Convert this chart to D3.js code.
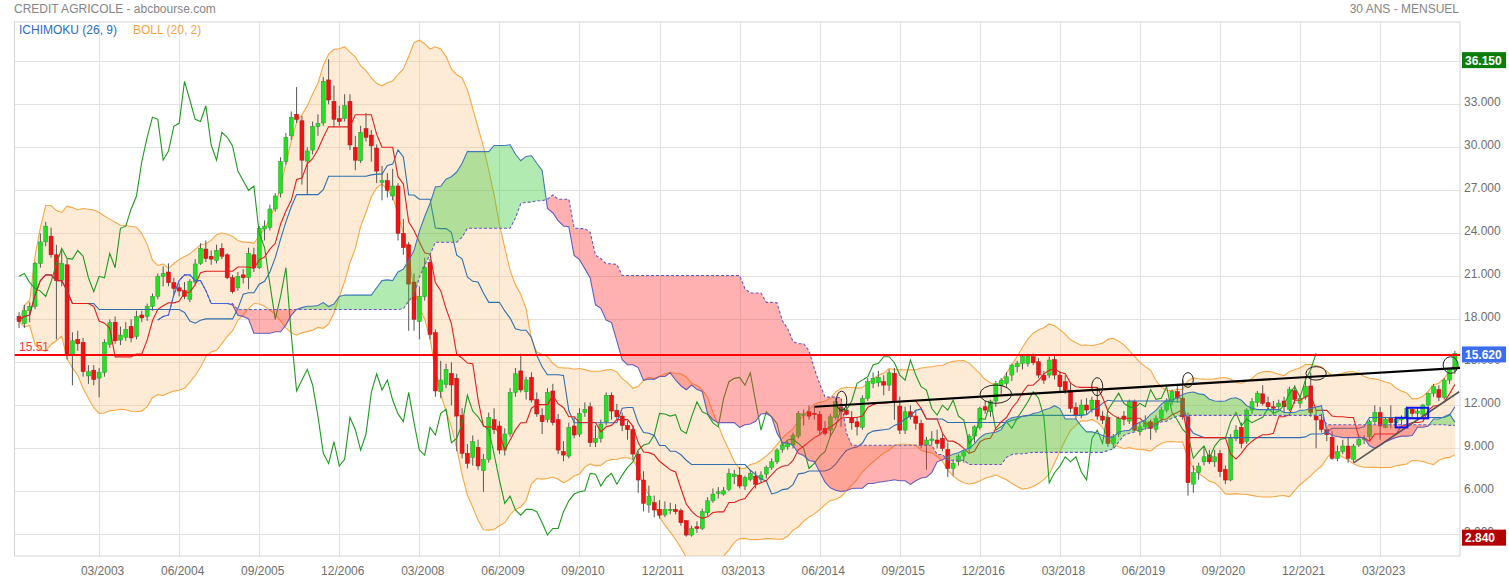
<!DOCTYPE html>
<html><head><meta charset="utf-8">
<script src="https://cdn.jsdelivr.net/npm/d3@7"></script>
<style>body{margin:0;background:#fff;} svg{display:block;font-family:Arial,"Liberation Sans",sans-serif;}</style>
</head><body><svg id="c" width="1509" height="580"></svg>
<script>
// ---- DATA (monthly candles, Dec 2001 .. May 2024) ----
const opens = [18.2,17.7,18.6,18.9,21.9,23.4,23.8,22.5,20.7,21.8,15.5,16.6,16.4,14.05,14.45,13.9,14.3,16.25,17.8,16.55,16.75,17.5,16.8,18.3,18.2,
18.9,19.6,21.0,21.3,20.56,20.2,20.0,19.4,20.6,21.9,22.9,22.4,22.1,22.95,22.5,20.9,20.2,21.1,20.9,22.5,21.6,24.3,24.4,25.7,
26.8,29.0,30.8,32.3,31.85,29.04,29.8,31.44,31.7,34.7,33.2,32.0,32.0,33.2,30.0,29.06,31.3,30.85,29.95,27.55,27.67,26.6,27.3,24.0,
23.2,20.6,17.84,19.58,21.98,17.07,12.95,13.46,14.23,13.88,11.3,8.65,8.37,9.07,7.44,8.23,11.0,10.56,8.88,10.0,12.9,14.4,12.95,13.95,
12.4,11.3,11.0,13.0,11.0,8.77,8.46,10.56,9.99,11.49,11.9,9.4,9.69,10.85,12.7,11.65,11.25,10.6,10.3,8.6,6.79,5.05,5.21,4.75,
4.35,4.65,4.74,4.65,3.95,2.95,3.53,3.41,4.5,5.34,5.85,5.81,6.13,7.02,7.13,6.37,6.83,7.06,6.83,7.2,7.67,8.06,8.92,9.1,
9.23,9.85,11.3,11.55,11.45,11.37,10.37,10.27,11.16,11.85,11.67,11.16,10.85,10.46,12.48,13.53,13.57,13.65,13.41,14.23,11.95,10.27,11.55,11.25,
10.74,9.23,9.55,9.58,9.7,8.92,7.6,8.06,8.46,8.99,9.85,10.46,11.9,11.55,12.3,13.41,13.53,14.11,14.69,14.93,14.93,15.39,15.04,14.11,
14.11,15.2,14.11,13.65,13.06,11.85,11.32,12.02,11.7,12.36,11.25,11.16,9.34,10.0,11.25,10.9,12.25,10.16,10.5,10.85,10.32,11.09,11.67,12.25,
12.95,12.5,11.2,6.5,7.3,8.06,8.53,8.06,8.64,7.53,6.79,9.69,10.46,9.46,11.67,12.2,12.8,12.18,11.9,11.9,12.3,11.72,13.02,12.14,
12.56,13.35,11.25,10.98,10.3,9.77,8.3,8.77,9.16,8.23,9.23,9.62,9.81,10.86,11.5,10.46,11.16,10.79,10.98,11.2,11.72,11.44,11.32,12.02,
12.84,13.1,12.56,13.76,14.46];
const highs = [18.5,19.0,19.2,22.0,24.0,24.8,24.4,23.2,22.9,22.2,17.1,17.2,16.7,14.8,14.8,14.6,16.6,18.0,18.2,17.5,17.8,18.0,18.6,18.6,19.1,
19.8,21.2,21.7,21.9,20.9,20.5,20.6,20.8,22.2,23.3,23.5,22.8,23.2,23.3,22.6,21.1,21.3,21.5,23.0,23.0,24.5,24.9,26.0,26.8,
29.3,31.0,32.5,34.2,32.2,30.0,31.8,32.3,34.9,36.15,34.3,32.9,33.7,33.7,30.8,31.5,32.4,31.2,30.2,28.7,28.2,28.5,27.5,25.0,
23.4,21.2,20.3,22.3,22.2,17.3,15.1,14.9,15.0,14.2,11.8,9.3,9.9,9.6,8.6,11.5,11.8,10.9,10.4,13.2,14.6,15.6,14.0,14.3,
12.9,11.8,13.2,13.5,11.4,9.5,10.8,11.2,11.8,12.2,12.2,10.6,11.0,12.9,12.9,12.1,11.5,10.9,10.6,8.8,7.4,6.4,5.7,5.4,
5.3,5.2,5.1,4.8,4.0,3.6,3.9,4.8,5.6,6.2,6.3,6.3,7.6,7.5,7.7,7.1,7.5,7.4,7.4,7.8,8.3,9.0,9.4,9.5,
10.1,11.6,11.7,12.0,11.9,11.6,10.9,11.4,12.5,12.2,12.2,11.6,11.2,12.7,13.9,14.3,14.4,14.1,14.5,14.6,12.6,11.9,12.0,11.6,
11.0,9.8,10.2,10.3,10.0,9.4,8.2,8.6,8.9,10.0,10.6,11.9,12.3,12.4,13.7,13.9,14.3,14.9,15.1,15.5,15.6,15.6,15.3,14.4,
15.4,15.5,14.4,14.1,13.6,12.2,12.4,12.5,12.6,13.2,11.6,11.3,10.0,11.2,11.6,12.4,12.4,10.8,11.3,11.0,11.3,11.9,12.5,13.1,
13.4,13.8,11.5,7.8,8.0,9.0,8.9,8.9,8.9,7.8,10.0,10.6,10.8,11.8,12.5,13.0,13.4,12.6,12.3,12.4,12.6,13.3,13.4,12.7,
13.9,14.3,11.6,11.4,10.5,10.2,9.2,9.6,9.8,9.3,9.8,9.9,11.0,12.0,11.9,11.2,12.0,11.2,11.3,11.9,11.9,11.8,12.1,12.9,
13.5,13.4,13.9,14.6,15.8];
const lows = [17.4,17.4,17.8,18.7,21.6,23.1,22.3,16.6,20.3,15.2,13.4,15.8,14.0,13.5,13.4,12.56,14.0,16.0,16.3,16.2,16.5,16.4,16.6,17.8,17.9,
18.6,19.4,20.3,20.3,19.7,19.6,19.4,19.2,20.4,21.8,22.0,21.8,21.9,22.2,20.8,19.8,20.0,20.5,20.1,21.3,21.5,23.5,24.2,25.5,
26.5,28.8,30.5,31.7,27.4,26.7,29.5,30.8,31.5,33.0,31.4,31.5,31.8,29.8,28.4,28.9,30.4,29.0,27.5,26.3,26.5,26.3,23.5,22.5,
17.2,17.2,16.6,19.3,16.6,12.6,12.5,13.2,12.0,8.8,8.3,7.6,7.8,7.5,5.97,8.0,10.0,8.6,8.5,9.8,12.6,12.9,12.4,12.2,
11.2,10.0,10.8,10.6,8.6,8.1,8.3,9.7,9.8,11.2,9.1,9.1,9.4,10.6,11.0,11.0,10.2,9.6,8.2,5.9,4.6,4.5,4.2,4.1,
4.2,4.4,4.4,3.6,2.84,2.84,3.1,3.3,4.3,5.2,5.5,5.7,6.0,6.5,6.2,6.1,6.7,6.2,6.6,6.9,7.5,7.9,8.7,8.9,
9.0,9.7,10.6,11.0,11.0,10.0,9.9,9.8,11.0,10.5,11.3,10.3,9.9,10.3,12.3,13.2,13.3,12.7,13.0,11.0,10.0,10.0,11.0,10.3,
9.0,7.5,9.2,9.0,8.8,7.0,7.1,7.8,8.0,8.7,9.4,10.3,11.4,11.2,11.9,12.8,13.3,13.7,14.3,14.5,14.7,14.8,13.9,13.5,
13.9,13.8,13.0,12.8,11.5,11.0,11.1,11.4,11.5,11.0,10.7,9.1,9.0,9.8,10.6,10.7,10.2,9.9,10.3,9.6,10.1,10.9,11.5,12.0,
12.2,11.0,5.7,5.9,6.8,7.8,7.9,7.7,7.0,6.5,6.7,9.5,9.0,9.3,11.4,11.9,12.0,11.6,11.3,11.7,11.5,11.6,12.1,11.8,
12.4,11.2,9.0,10.1,9.5,8.2,8.1,8.6,8.0,8.0,9.1,9.3,9.6,10.7,9.6,10.4,10.4,10.5,10.6,11.0,11.2,11.1,11.2,11.9,
12.6,12.3,12.4,13.5,14.2];
const closes = [17.85,18.6,18.9,21.9,23.4,24.5,22.5,20.7,21.9,15.46,16.5,16.3,14.35,14.35,13.8,14.3,16.4,17.76,16.5,16.9,17.3,16.7,18.2,18.1,18.9,
19.6,21.0,21.2,20.56,20.16,19.97,19.6,20.63,21.86,22.95,22.25,22.2,22.8,22.4,20.9,19.93,21.0,20.9,22.6,21.6,24.35,24.5,25.7,26.6,
29.0,30.7,32.1,31.95,29.1,29.74,31.46,31.67,34.6,33.3,31.95,31.8,32.9,30.16,29.1,31.04,30.7,30.1,28.34,27.67,27.0,27.3,24.0,23.0,
20.46,18.0,19.6,21.6,16.95,13.0,13.77,14.51,13.42,11.25,8.65,7.95,9.46,7.77,8.23,11.16,10.3,8.88,10.0,12.9,14.2,13.07,13.77,12.37,
11.4,10.86,12.9,10.8,8.88,8.53,10.46,9.93,11.44,11.72,9.4,9.7,10.69,12.7,11.6,11.2,10.6,10.3,8.6,6.79,5.16,5.67,4.7,4.34,
4.74,4.75,4.58,3.81,2.95,3.41,3.41,4.58,5.34,5.81,5.97,6.04,7.25,7.2,6.37,6.95,7.25,6.5,7.13,7.67,8.06,8.88,9.23,9.34,
9.92,11.44,11.4,11.25,11.35,10.27,10.04,11.2,12.25,11.55,11.37,10.78,10.5,12.48,13.65,13.88,13.95,13.41,14.27,12.25,10.27,11.55,11.2,10.74,
9.23,9.58,9.65,9.34,9.0,7.6,7.95,8.46,8.76,9.85,10.5,11.8,11.67,12.3,13.53,13.76,13.99,14.81,14.93,15.39,15.39,14.97,14.11,13.76,
15.16,14.11,13.3,13.06,11.78,11.32,12.02,11.67,12.36,11.25,10.97,9.34,9.81,11.09,11.02,12.25,10.27,10.5,10.85,10.4,11.09,11.67,12.25,12.95,
12.5,11.2,6.6,7.3,7.76,8.41,8.06,8.41,7.37,6.79,9.69,10.27,9.34,11.67,12.25,12.85,12.14,11.9,11.8,12.14,11.9,13.1,12.42,12.49,
13.3,11.5,10.98,10.32,9.95,8.3,8.77,9.16,8.3,9.16,9.62,9.7,10.86,11.5,10.56,11.04,10.79,11.0,11.16,11.8,11.44,11.6,12.02,12.84,
13.3,12.56,13.76,14.5,15.62];

const yTickValues = [3,6,9,12,15,18,21,24,27,30,33,36];
const xTickIndex = [15,30,45,60,75,90,105,120,135,150,165,180,195,210,225,240,255];
const xTickLabels = ["03/2003","06/2004","09/2005","12/2006","03/2008","06/2009","09/2010","12/2011","03/2013","06/2014","09/2015","12/2016","03/2018","06/2019","09/2020","12/2021","03/2023"];
const refLevel = 15.51;
const maxHigh = 36.15, minLow = 2.84, lastClose = 15.62;
// annotations in data units [index, price]
const trendBlack = [[149.0, 11.90],[269.96, 14.62]];
const trendGray = [[250.1, 8.0],[269.8, 12.95]];
const ellipses = [ // [centerIdx, centerPrice, radiusIdx, radiusPrice]
  [154.1,12.32,0.98,0.67],[183.0,12.78,2.96,0.64],[202.0,13.30,1.03,0.63],
  [219.0,13.77,0.99,0.51],[243.0,14.23,1.9,0.47],[268.2,14.81,1.4,0.58]];
const blueRects = [[257.9,260.1,10.46,11.13],[260.0,264.0,11.09,11.83]];

// ---- INDICATORS ----
const n = closes.length;
function midWin(i,w){const s=Math.max(0,i-w+1);return (d3.max(highs.slice(s,i+1))+d3.min(lows.slice(s,i+1)))/2;}
const tenkan = d3.range(n).map(i=>({i,v:midWin(i,9)}));
const kijun = d3.range(n).map(i=>({i,v:midWin(i,26)}));
const cloud = d3.range(26,n).map(i=>({i,a:(tenkan[i-26].v+kijun[i-26].v)/2,b:midWin(i-26,52)}));
const chikou = d3.range(0,n-26).map(i=>({i,v:closes[i+26]}));
const boll = d3.range(n).map(i=>{const s=Math.max(0,i-19);const arr=closes.slice(s,i+1);const m=d3.mean(arr);
  const sd=Math.sqrt(d3.mean(arr.map(v=>(v-m)*(v-m))));return {i,up:m+2*sd,lo:m-2*sd};});

// ---- SCALES ----
const P={l:14.5,r:1460,t:22,b:556};
const x=d3.scaleLinear().domain([-0.85,269.96]).range([P.l,P.r]);
const y=d3.scaleLinear().domain([1.49,38.74]).range([P.b,P.t]);
const svg=d3.select('#c');
const fmt=d3.format('.3f');

svg.append('defs').append('clipPath').attr('id','plotclip').append('rect')
  .attr('x',P.l).attr('y',P.t).attr('width',P.r-P.l).attr('height',P.b-P.t);

// titles
svg.append('text').attr('x',14).attr('y',12.5).attr('font-size',12).attr('fill','#858585').text('CREDIT AGRICOLE - abcbourse.com');
svg.append('text').attr('x',1459).attr('y',12.5).attr('text-anchor','end').attr('font-size',12).attr('fill','#858585').text('30 ANS - MENSUEL');

// grid
const grid=svg.append('g');
grid.selectAll('line.h').data(yTickValues).join('line').attr('x1',P.l).attr('x2',P.r)
  .attr('y1',d=>Math.round(y(d))+0.5).attr('y2',d=>Math.round(y(d))+0.5).attr('stroke','#e2e2e2');
grid.selectAll('line.v').data(xTickIndex).join('line').attr('y1',P.t).attr('y2',P.b)
  .attr('x1',d=>Math.round(x(d))+0.5).attr('x2',d=>Math.round(x(d))+0.5).attr('stroke','#e2e2e2');
svg.append('rect').attr('x',P.l).attr('y',P.t).attr('width',P.r-P.l).attr('height',P.b-P.t)
  .attr('fill','none').attr('stroke','#d4d4d4');

// axis labels
svg.append('g').selectAll('text').data(yTickValues).join('text').attr('x',1464).attr('y',d=>y(d)+2)
  .attr('font-size',12).attr('fill','#6e6e6e').text(d=>fmt(d));
svg.append('g').selectAll('text').data(xTickIndex).join('text').attr('x',d=>x(d)+3.5).attr('y',574.5)
  .attr('text-anchor','middle').attr('font-size',12).attr('fill','#6e6e6e').text((d,k)=>xTickLabels[k]);

const g=svg.append('g').attr('clip-path','url(#plotclip)');
// Bollinger
g.append('path').datum(boll).attr('d',d3.area().x(d=>x(d.i)).y0(d=>y(d.lo)).y1(d=>y(d.up)))
  .attr('fill','rgba(249,190,120,0.3)');
g.append('path').datum(boll).attr('d',d3.line().x(d=>x(d.i)).y(d=>y(d.up))).attr('fill','none').attr('stroke','#f6a845').attr('stroke-width',1.1);
g.append('path').datum(boll).attr('d',d3.line().x(d=>x(d.i)).y(d=>y(d.lo))).attr('fill','none').attr('stroke','#f6a845').attr('stroke-width',1.1);

// candles
const cd=d3.range(n).map(i=>({i,o:opens[i],h:highs[i],l:lows[i],c:closes[i]}));
const cg=g.append('g');
cg.selectAll('line').data(cd).join('line').attr('x1',d=>x(d.i)).attr('x2',d=>x(d.i))
  .attr('y1',d=>y(d.h)).attr('y2',d=>y(d.l)).attr('stroke','#555').attr('stroke-width',1);
cg.selectAll('rect').data(cd).join('rect').attr('x',d=>x(d.i)-2).attr('width',4)
  .attr('y',d=>y(Math.max(d.o,d.c))).attr('height',d=>Math.max(1,Math.abs(y(d.o)-y(d.c))))
  .attr('fill',d=>d.c>=d.o?'#22e122':'#f01313').attr('stroke',d=>d.c>=d.o?'#2a9a2a':'#b01010').attr('stroke-width',0.5);

// ichimoku lines
const ln=(acc)=>d3.line().x(d=>x(d.i)).y(d=>y(acc(d)));
g.append('path').datum(chikou).attr('d',ln(d=>d.v)).attr('fill','none').attr('stroke','#1f9a1f').attr('stroke-width',1.1);
g.append('path').datum(kijun).attr('d',ln(d=>d.v)).attr('fill','none').attr('stroke','#2f6fb0').attr('stroke-width',1.1);
g.append('path').datum(tenkan).attr('d',ln(d=>d.v)).attr('fill','none').attr('stroke','#e02020').attr('stroke-width',1.1);

// cloud lines
g.append('path').datum(cloud).attr('d',ln(d=>d.b)).attr('fill','none').attr('stroke','#5a55e0').attr('stroke-width',1.1).attr('stroke-dasharray','3,2');
g.append('path').datum(cloud).attr('d',ln(d=>d.a)).attr('fill','none').attr('stroke','#4466d8').attr('stroke-width',1.1);
// cloud fill
const defs=svg.select('defs');
defs.append('clipPath').attr('id','aboveB').append('path').datum(cloud)
  .attr('d',d3.area().x(d=>x(d.i)).y0(P.t).y1(d=>y(d.b)));
defs.append('clipPath').attr('id','belowB').append('path').datum(cloud)
  .attr('d',d3.area().x(d=>x(d.i)).y0(P.b).y1(d=>y(d.b)));
const between=d3.area().x(d=>x(d.i)).y0(d=>y(d.b)).y1(d=>y(d.a));
g.append('g').attr('clip-path','url(#aboveB)').append('path').datum(cloud).attr('d',between).attr('fill','rgba(45,200,45,0.37)');
g.append('g').attr('clip-path','url(#belowB)').append('path').datum(cloud).attr('d',between).attr('fill','rgba(255,50,50,0.38)');

// reference line
g.append('line').attr('x1',P.l).attr('x2',P.r).attr('y1',y(refLevel)).attr('y2',y(refLevel)).attr('stroke','#ff0000').attr('stroke-width',2.2);
svg.append('text').attr('x',19).attr('y',y(refLevel)-4).attr('font-size',12).attr('fill','#f03a3a').text(refLevel.toFixed(2));

// annotations
const tl=d3.line().x(d=>x(d[0])).y(d=>y(d[1]));
g.append('path').datum(trendGray).attr('d',tl).attr('stroke','#555').attr('stroke-width',1.6).attr('fill','none');
g.append('path').datum(trendBlack).attr('d',tl).attr('stroke','#000').attr('stroke-width',2.2).attr('fill','none');
g.selectAll('ellipse').data(ellipses).join('ellipse').attr('cx',d=>x(d[0])).attr('cy',d=>y(d[1]))
  .attr('rx',d=>x(d[2])-x(0)).attr('ry',d=>y(0)-y(d[3])).attr('fill','none').attr('stroke','#222').attr('stroke-width',1);
g.selectAll('rect.br').data(blueRects).join('rect').attr('class','br').attr('x',d=>x(d[0])).attr('width',d=>x(d[1])-x(d[0]))
  .attr('y',d=>y(d[3])).attr('height',d=>y(d[2])-y(d[3])).attr('fill','none').attr('stroke','#0a14f0').attr('stroke-width',2);

// legend
svg.append('text').attr('x',19).attr('y',34).attr('font-size',12).attr('fill','#2b6cc4').text('ICHIMOKU (26, 9)');
svg.append('text').attr('x',133).attr('y',34).attr('font-size',12).attr('fill','#f5a540').text('BOLL (20, 2)');

// value boxes (drawn over the tick labels they hide, as in the reference)
const boxes=[[maxHigh,'#0a7d0a'],[lastClose,'#3c6cf0'],[minLow,'#b30000']];
const bg=svg.append('g');
boxes.forEach(([v,col])=>{
  bg.append('rect').attr('x',1462).attr('y',y(v)-7).attr('width',44).attr('height',16).attr('fill',col);
  bg.append('text').attr('x',1465).attr('y',y(v)+5.5).attr('font-size',12).attr('font-weight','bold').attr('fill','#fff').text(fmt(v));
});
</script></body></html>
